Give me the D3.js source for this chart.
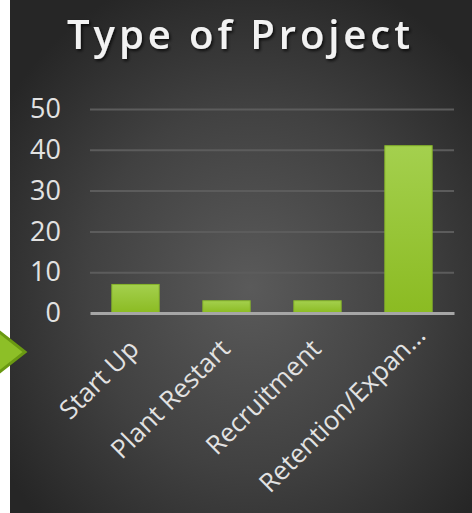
<!DOCTYPE html>
<html>
<head>
<meta charset="utf-8">
<script src="https://cdn.jsdelivr.net/npm/d3@7/dist/d3.min.js"></script>
<style>
  html, body { margin: 0; padding: 0; background: #ffffff; }
  svg { display: block; }
</style>
</head>
<body>
<svg id="chart" width="472" height="513"></svg>
<script>
// Project counts by type
const categories = ["Start Up", "Plant Restart", "Recruitment", "Retention/Expan…"];
const projectCounts = [7, 3, 3, 41];
const yTicks = [0, 10, 20, 30, 40, 50];
const titleText = "Type of Project";

const W = 472, H = 513;
const svg = d3.select("#chart");
const defs = svg.append("defs");

// Slide background: dark radial vignette
const bg = defs.append("radialGradient").attr("id", "bgGrad")
  .attr("cx", "52%").attr("cy", "56%").attr("r", "64%");
bg.append("stop").attr("offset", "0%").attr("stop-color", "#5a5a5a");
bg.append("stop").attr("offset", "55%").attr("stop-color", "#414141");
bg.append("stop").attr("offset", "100%").attr("stop-color", "#262626");

const barGrad = defs.append("linearGradient").attr("id", "barGrad")
  .attr("x1", 0).attr("y1", 0).attr("x2", 0).attr("y2", 1);
barGrad.append("stop").attr("offset", "0%").attr("stop-color", "#a4d04e");
barGrad.append("stop").attr("offset", "100%").attr("stop-color", "#8bbb22");

const shadow = defs.append("filter").attr("id", "titleShadow")
  .attr("x", "-10%").attr("y", "-30%").attr("width", "120%").attr("height", "160%");
shadow.append("feDropShadow").attr("dx", 1.5).attr("dy", 2).attr("stdDeviation", 1.5)
  .attr("flood-color", "#000").attr("flood-opacity", 0.75);

svg.append("rect").attr("x", 10).attr("y", 0).attr("width", W - 10).attr("height", H)
  .attr("fill", "url(#bgGrad)");

// Title
svg.append("text")
  .attr("x", 67).attr("y", 49)
  .attr("textLength", 343).attr("lengthAdjust", "spacing")
  .attr("font-family", "'Open Sans', sans-serif")
  .attr("font-weight", 600)
  .attr("font-size", 40)
  .attr("fill", "#f2f2f2")
  .attr("filter", "url(#titleShadow)")
  .text(titleText);

// Scales
const plot = { left: 90, right: 454, top: 109, bottom: 313 };
const x = d3.scaleBand().domain(categories).range([plot.left, plot.right])
  .paddingInner(0.48).paddingOuter(0.24);
const y = d3.scaleLinear().domain([0, 50]).range([plot.bottom, plot.top]);

// Gridlines
const grid = svg.append("g").attr("transform", `translate(${plot.left},0)`)
  .call(d3.axisLeft(y).tickValues(yTicks.filter(t => t > 0))
    .tickSize(-(plot.right - plot.left)).tickFormat(""));
grid.select(".domain").remove();
grid.selectAll(".tick line").attr("stroke", "#5c5c5c").attr("stroke-width", 2);

// Y axis labels
const yAxis = svg.append("g").attr("transform", `translate(61,0)`)
  .call(d3.axisLeft(y).tickValues(yTicks).tickSize(0).tickPadding(0));
yAxis.select(".domain").remove();
yAxis.selectAll("text")
  .attr("font-family", "'Open Sans', sans-serif")
  .attr("font-size", 27)
  .attr("fill", "#e2e2e2");

// Bars
svg.append("g").selectAll("rect")
  .data(categories.map((c, i) => ({ c, v: projectCounts[i] })))
  .join("rect")
  .attr("x", d => x(d.c))
  .attr("y", d => y(d.v))
  .attr("width", x.bandwidth())
  .attr("height", d => y(0) - y(d.v))
  .attr("fill", "url(#barGrad)")
  .attr("stroke", "#86b52a")
  .attr("stroke-width", 1);

// Baseline axis
const xAxis = svg.append("g").attr("transform", `translate(0,${y(0)})`)
  .call(d3.axisBottom(x).tickSize(0).tickFormat(""));
xAxis.select(".domain").attr("stroke", "#a6a6a6").attr("stroke-width", 3);

// Rotated category labels; an elided label sits further along its slope
const along = 19 / Math.SQRT2;
svg.append("g").selectAll("text")
  .data(categories)
  .join("text")
  .attr("transform", c => {
    const s = c.endsWith("…") ? along : 0;
    return `translate(${x(c) + x.bandwidth() / 2 + 5 + s},${350.5 - s}) rotate(-45)`;
  })
  .attr("text-anchor", "end")
  .attr("font-family", "'Open Sans', sans-serif")
  .attr("font-size", 26)
  .attr("fill", "#e2e2e2")
  .text(c => c);

// Green pointer on the left edge
svg.append("path")
  .attr("d", "M-12,323 L25,352 L-12,381 Z")
  .attr("fill", "#8dbf27")
  .attr("stroke", "#6a9912")
  .attr("stroke-width", 3)
  .attr("stroke-linejoin", "miter");
</script>
</body>
</html>
